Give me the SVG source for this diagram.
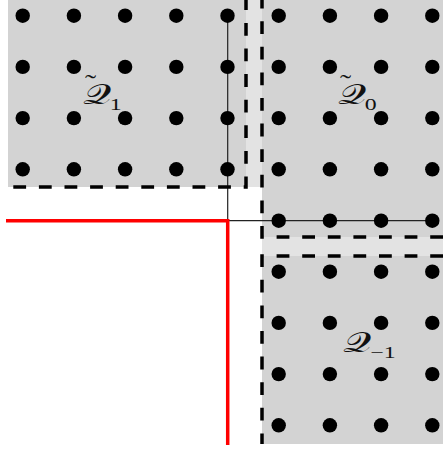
<svg xmlns="http://www.w3.org/2000/svg" width="443" height="450" viewBox="0 0 443 450">
<defs>
<style>
.reg{fill:#d3d3d3}
.strip{fill:#e3e3e3}
.dash{fill:none;stroke:#000;stroke-width:3.5;stroke-dasharray:12.8 12.8}
.thin{fill:none;stroke:#222;stroke-width:1.2}
.red{fill:none;stroke:#ff0000;stroke-width:3.5}
.lbl{font-family:"DejaVu Serif","Liberation Serif",serif;font-size:28px;fill:#111}
.til{font-family:"Liberation Serif",serif;font-size:24px}
.sub{font-family:"Liberation Serif",serif;font-size:17px}
</style>
<circle id="d" r="7.2" fill="#000"/>
</defs>
<g id="regions">
<rect id="Q1-area" class="reg" x="8" y="0" width="238" height="187"/>
<rect class="strip" x="246" y="0" width="16" height="187"/>
<rect id="Q0-area" class="reg" x="262" y="0" width="181" height="237"/>
<rect class="strip" x="262" y="237" width="181" height="19"/>
<rect id="Qm1-area" class="reg" x="262" y="256" width="181" height="188"/>
</g>
<g id="connectors">
<path class="thin" d="M227.7,15.7 V220.7 H432.3"/>
<path class="red" d="M6,220.7 H227.7 V445"/>
</g>
<g id="Q1">
<use href="#d" x="22.7" y="15.7"/><use href="#d" x="73.9" y="15.7"/><use href="#d" x="125.1" y="15.7"/><use href="#d" x="176.3" y="15.7"/><use href="#d" x="227.5" y="15.7"/>
<use href="#d" x="22.7" y="66.9"/><use href="#d" x="73.9" y="66.9"/><use href="#d" x="125.1" y="66.9"/><use href="#d" x="176.3" y="66.9"/><use href="#d" x="227.5" y="66.9"/>
<use href="#d" x="22.7" y="118.1"/><use href="#d" x="73.9" y="118.1"/><use href="#d" x="125.1" y="118.1"/><use href="#d" x="176.3" y="118.1"/><use href="#d" x="227.5" y="118.1"/>
<use href="#d" x="22.7" y="169.3"/><use href="#d" x="73.9" y="169.3"/><use href="#d" x="125.1" y="169.3"/><use href="#d" x="176.3" y="169.3"/><use href="#d" x="227.5" y="169.3"/>
<path class="dash" d="M246,-2.7 V187 H8"/>
<text class="lbl" transform="translate(83,104) scale(1.4,1)">𝒬<tspan class="til" x="1.5" y="-13">˜</tspan><tspan class="sub" x="19.2" y="6">1</tspan></text>
</g>
<g id="Q0">
<use href="#d" x="278.7" y="15.7"/><use href="#d" x="329.9" y="15.7"/><use href="#d" x="381.1" y="15.7"/><use href="#d" x="432.3" y="15.7"/>
<use href="#d" x="278.7" y="66.9"/><use href="#d" x="329.9" y="66.9"/><use href="#d" x="381.1" y="66.9"/><use href="#d" x="432.3" y="66.9"/>
<use href="#d" x="278.7" y="118.1"/><use href="#d" x="329.9" y="118.1"/><use href="#d" x="381.1" y="118.1"/><use href="#d" x="432.3" y="118.1"/>
<use href="#d" x="278.7" y="169.3"/><use href="#d" x="329.9" y="169.3"/><use href="#d" x="381.1" y="169.3"/><use href="#d" x="432.3" y="169.3"/>
<use href="#d" x="278.7" y="220.7"/><use href="#d" x="329.9" y="220.7"/><use href="#d" x="381.1" y="220.7"/><use href="#d" x="432.3" y="220.7"/>
<path class="dash" d="M443,237 H262 V-5"/>
<text class="lbl" transform="translate(338,104) scale(1.4,1)">𝒬<tspan class="til" x="1.5" y="-13">˜</tspan><tspan class="sub" x="19.2" y="6">0</tspan></text>
</g>
<g id="Qm1">
<use href="#d" x="278.7" y="271.7"/><use href="#d" x="329.9" y="271.7"/><use href="#d" x="381.1" y="271.7"/><use href="#d" x="432.3" y="271.7"/>
<use href="#d" x="278.7" y="322.9"/><use href="#d" x="329.9" y="322.9"/><use href="#d" x="381.1" y="322.9"/><use href="#d" x="432.3" y="322.9"/>
<use href="#d" x="278.7" y="374.1"/><use href="#d" x="329.9" y="374.1"/><use href="#d" x="381.1" y="374.1"/><use href="#d" x="432.3" y="374.1"/>
<use href="#d" x="278.7" y="425.3"/><use href="#d" x="329.9" y="425.3"/><use href="#d" x="381.1" y="425.3"/><use href="#d" x="432.3" y="425.3"/>
<path class="dash" d="M443,256 H262 V444"/>
<text class="lbl" transform="translate(343,352) scale(1.4,1)">𝒬<tspan class="sub" x="19.5" y="6">−1</tspan></text>
</g>
</svg>
